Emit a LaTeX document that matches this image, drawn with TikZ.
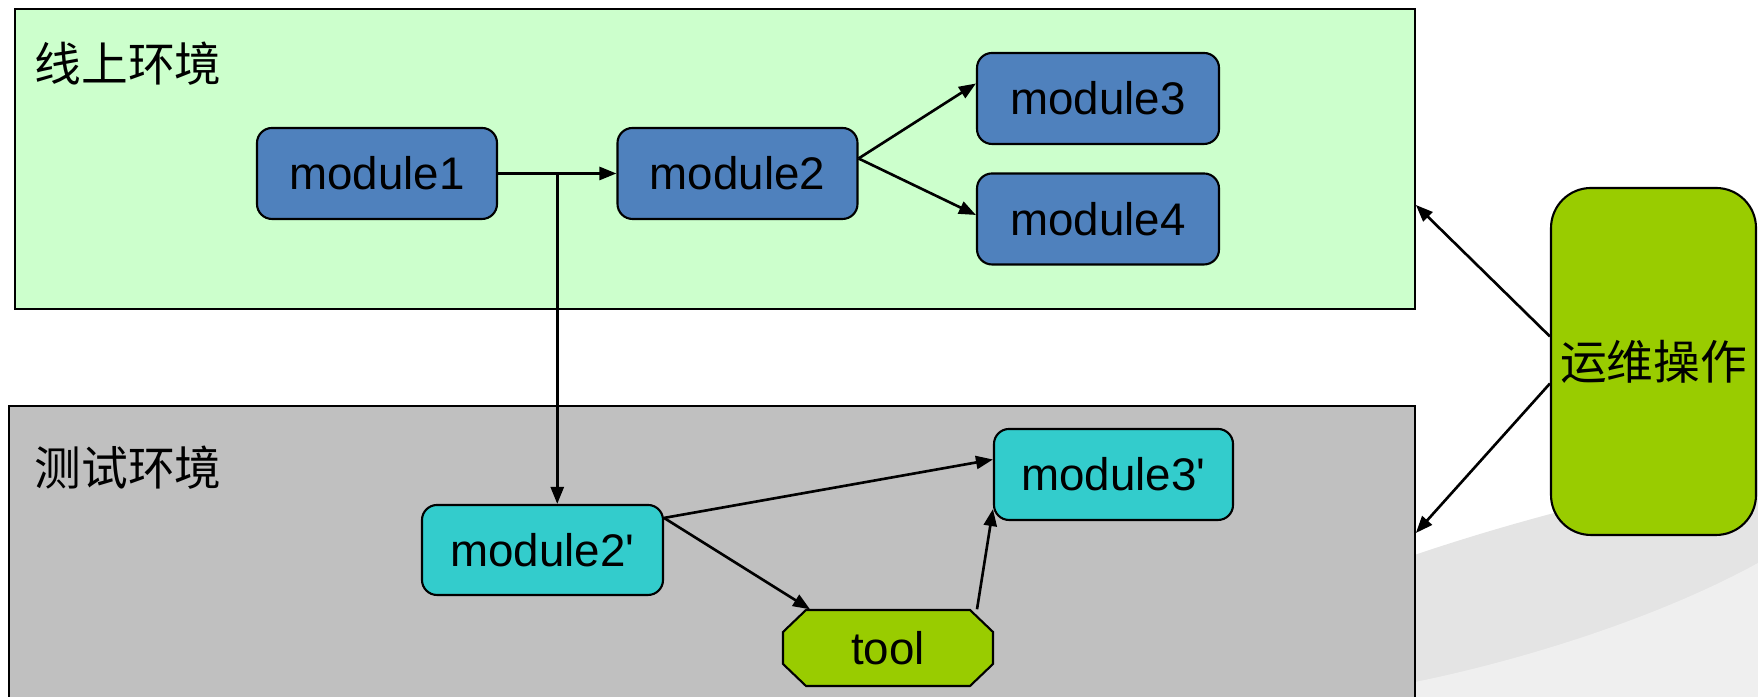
\documentclass[tikz,border=0pt]{standalone}
\usepackage{fontspec}
\setmainfont{Liberation Sans}
\newfontfamily\cjk{Noto Sans CJK SC}
\usetikzlibrary{arrows.meta,calc}

\definecolor{onlinegreen}{HTML}{CCFFCC}
\definecolor{testgrey}{HTML}{C0C0C0}
\definecolor{modblue}{HTML}{4F81BD}
\definecolor{modcyan}{HTML}{33CCCC}
\definecolor{opsgreen}{HTML}{99CC00}
\definecolor{swooshdark}{HTML}{E4E4E4}
\definecolor{swooshlight}{HTML}{EFEFEF}

\begin{document}
\begin{tikzpicture}[
		envbox/.style={draw, line width=0.6pt, inner sep=0pt},
		envlabel/.style={font=\cjk\fontsize{13.3}{16}\selectfont},
		modbox/.style={draw, line width=0.6pt, rounded corners=0.15cm,
			minimum width=2.4cm, minimum height=0.91cm, inner sep=0pt,
			font=\fontsize{13}{15}\selectfont},
		link/.style={line width=0.75pt, -{Triangle[length=0.17cm,width=0.13cm]}}
	]
	\useasboundingbox (0,0) rectangle (17.58,6.97);

	% background swoosh, bottom right
	\fill[swooshdark] (14.0,1.37) .. controls (15.0,1.72) and (16.4,2.1) .. (17.58,2.27)
		-- (17.58,0) -- (14.0,0) -- cycle;
	\fill[swooshlight] (14.0,0.12) .. controls (15.2,0.35) and (16.6,0.8) .. (17.58,1.34)
		-- (17.58,0) -- (14.0,0) -- cycle;

	% the two environments
	\node[envbox, fill=onlinegreen, minimum width=14.0cm, minimum height=3.0cm] (online) at (7.148,5.38) {};
	\node[envbox, fill=testgrey, minimum width=14.06cm, minimum height=3.54cm] (testenv) at (7.118,1.14) {};
	\node[envlabel] (onlinelabel) at (1.28,6.33) {线上环境};
	\node[envlabel] (testlabel) at (1.28,2.29) {测试环境};

	% online modules
	\node[modbox, fill=modblue] (m1) at (3.77,5.235) {module1};
	\node[modbox, fill=modblue] (m2) at (7.375,5.235) {module2};
	\node[modbox, fill=modblue, minimum width=2.42cm] (m3) at (10.98,5.985) {module3};
	\node[modbox, fill=modblue, minimum width=2.42cm] (m4) at (10.98,4.78) {module4};

	% test modules
	\node[modbox, fill=modcyan, minimum width=2.41cm, minimum height=0.9cm] (m2p) at (5.425,1.47) {module2\textquotesingle};
	\node[modbox, fill=modcyan, minimum width=2.39cm] (m3p) at (11.135,2.225) {module3\textquotesingle};

	% tool: octagon with cut corners
	\coordinate (toolc) at (8.88,0.49);
	\filldraw[line width=0.6pt, fill=opsgreen]
		($(toolc)+(-0.82,0.38)$) -- ($(toolc)+(0.82,0.38)$)
		-- ($(toolc)+(1.05,0.16)$) -- ($(toolc)+(1.05,-0.16)$)
		-- ($(toolc)+(0.82,-0.38)$) -- ($(toolc)+(-0.82,-0.38)$)
		-- ($(toolc)+(-1.05,-0.16)$) -- ($(toolc)+(-1.05,0.16)$) -- cycle;
	\node[minimum width=2.1cm, minimum height=0.76cm, inner sep=0pt,
		font=\fontsize{13}{15}\selectfont] (tool) at (toolc) {tool};

	% operations
	\node[draw, line width=0.6pt, fill=opsgreen, rounded corners=0.4cm,
		minimum width=2.05cm, minimum height=3.47cm, inner sep=0pt,
		font=\cjk\fontsize{13.3}{16}\selectfont] (ops) at (16.535,3.355) {运维操作};

	% online flow
	\coordinate (branch) at ($(m1.east)!0.5!(m2.west)$);
	\draw[link] (m1.east) -- (m2.west);
	\draw[link] ([yshift=0.15cm]m2.east) -- ([yshift=0.15cm]m3.west);
	\draw[link] ([yshift=0.15cm]m2.east) -- ([yshift=0.04cm]m4.west);
	\draw[link] (branch) -- (branch |- m2p.north);

	% test flow
	\draw[link] ([yshift=-0.14cm]m2p.north east) -- ([yshift=0.15cm]m3p.west);
	\draw[link] ([yshift=-0.14cm]m2p.north east) -- ([xshift=-0.78cm]tool.north);
	\draw[link] ([xshift=0.89cm]tool.north) -- ([yshift=0.12cm]m3p.south west);

	% operations on both environments
	\draw[link] ([yshift=0.25cm]ops.west) -- ([yshift=-0.46cm]online.east);
	\draw[link] ([yshift=-0.22cm]ops.west) -- ([yshift=0.5cm]testenv.east);
\end{tikzpicture}
\end{document}
